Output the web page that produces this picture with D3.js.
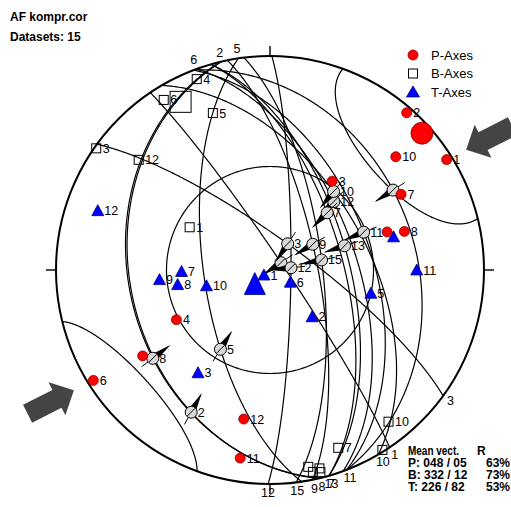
<!DOCTYPE html>
<html>
<head>
<meta charset="utf-8">
<script src="https://cdn.jsdelivr.net/npm/d3@7/dist/d3.min.js"></script>
<style>
  html, body { margin: 0; padding: 0; background: #fff; }
  svg { display: block; }
  text { font-family: "Liberation Sans", Arial, Helvetica, sans-serif; fill: #000; }
</style>
</head>
<body>
<svg id="net" width="511" height="507"></svg>
<script>
// Orientations are lower-hemisphere directions: trend (azimuth) / plunge, degrees.

// P-axes
const pLabels = ["1", "2", "3", "4", "6", "7", "8", "10", "11", "12", "", ""];
const pTrend  = [58, 41, 35, 242, 238, 60, 74, 48, 189, 190, 72, 236];
const pPlunge = [3, 3, 48, 49, 3, 30, 35, 22, 12, 30, 42, 29];

// B-axes
const bLabels = ["1", "3", "4", "5", "6", "12", "7", "10", "", "", "", "", ""];
const bTrend  = [298, 305, 339, 340, 328, 310, 159, 142, 148, 168, 166, 169, 166];
const bPlunge = [55, 1, 5, 23, 7, 21, 12, 11, 1, 4, 3, 7, 5];

// T-axes
const tLabels = ["12", "9", "7", "8", "10", "1", "6", "2", "5", "11", "", "3"];
const tTrend  = [289, 265, 269, 261, 256, 230, 121, 138, 103, 90, 75, 215];
const tPlunge = [16, 47, 56, 54, 65, 87, 81, 66, 50, 32, 40, 41];

// Mean vectors with their R values
const meanNames  = ["P", "B", "T"];
const meanTrend  = [48, 332, 226];
const meanPlunge = [5, 12, 82];
const meanR      = [63, 73, 53];

// Cone of confidence around the mean P-axis (degrees)
const pConeAngle = 28.5;

// Fault planes: strike azimuth of the labelled end and the slip line measured on the plane
const planeLabels   = ["1", "2", "3", "4", "5", "6", "7", "8", "9", "10", "11", "12", "13", "15"];
const planeStrike   = [146, 347, 126, 339, 351.5, 340, 164, 166.5, 168.5, 149.6, 159, 180.5, 164, 173];
const slipTrend     = [56, 209, 34, 57, 212, 43, 45, 233, 59, 39, 68, 84, 72, 79];
const slipPlunge    = [85, 25, 78, 32, 54, 54, 59, 32, 71, 51, 51, 82, 60, 70];
const slipLabels    = ["", "2", "3", "", "5", "12", "7", "8", "9", "10", "11", "12", "13", "15"];
const endLabelShown = [true, true, true, false, true, true, true, true, true, true, true, true, true, true];

// Compression arrows: where they sit (azimuth) and the direction they point along
const compressionPos = 58.5;
const compressionDir = 63;

const svg = d3.select("#net");
const R = 214, CX = 270, CY = 270;

// Schmidt (equal-area) lower-hemisphere net
const proj = d3.geoAzimuthalEqualArea()
  .rotate([0, -90])
  .clipAngle(90)
  .scale(R / Math.SQRT2)
  .translate([CX, CY])
  .precision(0.2);
const path = d3.geoPath(proj);
const geo = (trend, plunge) => [180 - trend, plunge];
const pt = (trend, plunge) => proj(geo(trend, plunge));

const rad = Math.PI / 180;
const vec = (t, p) => [Math.cos(p * rad) * Math.cos(t * rad), Math.cos(p * rad) * Math.sin(t * rad), Math.sin(p * rad)];
const cross = (a, b) => [a[1] * b[2] - a[2] * b[1], a[2] * b[0] - a[0] * b[2], a[0] * b[1] - a[1] * b[0]];
function toTP(v) {
  const n = Math.hypot(v[0], v[1], v[2]);
  let x = v[0] / n, y = v[1] / n, z = v[2] / n;
  if (z < 0) { x = -x; y = -y; z = -z; }
  return [(Math.atan2(y, x) / rad + 360) % 360, Math.asin(z) / rad];
}
// A circle on the sphere as an open line, so that clipping leaves only the arc
const circleLine = (centerT, centerP, radius) => ({
  type: "LineString",
  coordinates: d3.geoCircle().center(geo(centerT, centerP)).radius(radius).precision(0.5)().coordinates[0]
});

const lineG = svg.append("g").attr("fill", "none").attr("stroke", "#000");

// Inner reference circle
lineG.append("path").attr("d", path(circleLine(0, 90, 40))).attr("stroke-width", 1.2);

// Fault planes as great circles around their poles
const planes = planeLabels.map((lab, i) => {
  const n = cross(vec(planeStrike[i], 0), vec(slipTrend[i], slipPlunge[i]));
  return { lab, pole: toTP(n), i };
});
lineG.selectAll("path.plane").data(planes).join("path").attr("class", "plane")
  .attr("d", d => path(circleLine(d.pole[0], d.pole[1], 90)))
  .attr("stroke-width", 1.2);

// Confidence cone of the mean P-axis (both ends of the axis)
lineG.append("path").attr("d", path(circleLine(meanTrend[0], meanPlunge[0], pConeAngle))).attr("stroke-width", 1.2);
lineG.append("path").attr("d", path(circleLine(meanTrend[0] + 180, -meanPlunge[0], pConeAngle))).attr("stroke-width", 1.2);

// Primitive circle
svg.append("circle").attr("cx", CX).attr("cy", CY).attr("r", R)
  .attr("fill", "none").attr("stroke", "#000").attr("stroke-width", 2);

// Tick marks at N, E, S, W
[0, 90, 180, 270].forEach(a => {
  const s = Math.sin(a * rad), c = -Math.cos(a * rad);
  svg.append("line")
    .attr("x1", CX + s * R).attr("y1", CY + c * R)
    .attr("x2", CX + s * (R + 10)).attr("y2", CY + c * (R + 10))
    .attr("stroke", "#000").attr("stroke-width", 1.4);
});

// Plane end labels
svg.append("g").selectAll("text").data(planes.filter(d => endLabelShown[d.i])).join("text")
  .attr("x", d => CX + Math.sin(planeStrike[d.i] * rad) * (R + 9))
  .attr("y", d => CY - Math.cos(planeStrike[d.i] * rad) * (R + 9))
  .attr("text-anchor", "middle").attr("dominant-baseline", "central")
  .attr("font-size", 12.5).text(d => d.lab);

// Compression arrows
const arrowShape = "M0,0 L-19,-18.5 L-19,-10 L-52,-10 L-52,10 L-19,10 L-19,18.5 Z";
[0, 180].forEach(flip => {
  const a = compressionPos + flip;
  const x = CX + Math.sin(a * rad) * 230, y = CY - Math.cos(a * rad) * 230;
  const d = compressionDir + flip + 180;           // pointing inward
  const ang = Math.atan2(-Math.cos(d * rad), Math.sin(d * rad)) / rad;
  svg.append("path").attr("d", arrowShape)
    .attr("transform", `translate(${x},${y}) rotate(${ang})`)
    .attr("fill", "#444");
});

// Slip lines with sense-of-movement arrows
const slipG = svg.append("g");
planes.forEach(d => {
  const i = d.i;
  const [x, y] = pt(slipTrend[i], slipPlunge[i]);
  let ux = CX - x, uy = CY - y;
  const len = Math.hypot(ux, uy) || 1;
  ux /= len; uy /= len;
  const px = -uy, py = ux;
  slipG.append("line")
    .attr("x1", x - ux * 14).attr("y1", y - uy * 14)
    .attr("x2", x + ux * 20).attr("y2", y + uy * 20)
    .attr("stroke", "#000").attr("stroke-width", 1);
  slipG.append("path")
    .attr("d", `M${x + ux * 5 + px * 3.2},${y + uy * 5 + py * 3.2} L${x + ux * 22},${y + uy * 22} L${x + ux * 5 - px * 3.2},${y + uy * 5 - py * 3.2} Z`)
    .attr("fill", "#000");
  slipG.append("circle").attr("cx", x).attr("cy", y).attr("r", 6)
    .attr("fill", "#d8d8d8").attr("stroke", "#000").attr("stroke-width", 1);
  slipG.append("line")
    .attr("x1", x - 3.8).attr("y1", y + 3.8).attr("x2", x + 3.8).attr("y2", y - 3.8)
    .attr("stroke", "#000").attr("stroke-width", 1);
  if (slipLabels[i]) slipG.append("text").attr("x", x + 6.5).attr("y", y + 4.5)
    .attr("font-size", 12.5).text(slipLabels[i]);
});

// Symbols
const triPath = (w, h) => `M0,${-h * 0.55} L${w / 2},${h * 0.45} L${-w / 2},${h * 0.45} Z`;
function drawP(g, x, y, r) {
  g.append("circle").attr("cx", x).attr("cy", y).attr("r", r)
    .attr("fill", "#ff0000").attr("stroke", "#8a0000").attr("stroke-width", 0.8);
}
function drawB(g, x, y, s) {
  g.append("rect").attr("x", x - s / 2).attr("y", y - s / 2).attr("width", s).attr("height", s)
    .attr("fill", "none").attr("stroke", "#000").attr("stroke-width", 1);
}
function drawT(g, x, y, w, h) {
  g.append("path").attr("d", triPath(w, h)).attr("transform", `translate(${x},${y})`)
    .attr("fill", "#0000ff").attr("stroke", "#00007a").attr("stroke-width", 0.8);
}
const symG = svg.append("g");
function labelAt(x, y, t) {
  if (t) symG.append("text").attr("x", x + 6.5).attr("y", y + 4.5).attr("font-size", 12.5).text(t);
}
bLabels.forEach((l, i) => { const [x, y] = pt(bTrend[i], bPlunge[i]); drawB(symG, x, y, 9); labelAt(x, y, l); });
tLabels.forEach((l, i) => { const [x, y] = pt(tTrend[i], tPlunge[i]); drawT(symG, x, y, 12, 11); labelAt(x, y, l); });
pLabels.forEach((l, i) => { const [x, y] = pt(pTrend[i], pPlunge[i]); drawP(symG, x, y, 5); labelAt(x, y, l); });

// Mean vectors
{
  const [px, py] = pt(meanTrend[0], meanPlunge[0]); drawP(symG, px, py, 11);
  const [bx, by] = pt(meanTrend[1], meanPlunge[1]); drawB(symG, bx, by, 21);
  const [tx, ty] = pt(meanTrend[2], meanPlunge[2]); drawT(symG, tx, ty, 21, 22);
}

// Header
svg.append("text").attr("x", 10).attr("y", 21).attr("font-size", 12).attr("font-weight", "bold").text("AF kompr.cor");
svg.append("text").attr("x", 10).attr("y", 41).attr("font-size", 12).attr("font-weight", "bold").text("Datasets: 15");

// Legend
const leg = svg.append("g");
drawP(leg, 413, 55, 5);
drawB(leg, 413, 73.5, 9);
drawT(leg, 413, 92, 13, 11);
["P-Axes", "B-Axes", "T-Axes"].forEach((t, i) => {
  leg.append("text").attr("x", 431).attr("y", 59.5 + i * 18.5).attr("font-size", 13).text(t);
});

// Mean vector table
const tab = svg.append("g").attr("font-size", 12).attr("font-weight", "bold");
tab.append("text").attr("x", 408).attr("y", 454.5).attr("textLength", 51).attr("lengthAdjust", "spacingAndGlyphs").text("Mean vect.");
tab.append("text").attr("x", 477).attr("y", 454.5).text("R");
meanNames.forEach((n, i) => {
  const pad = (v, k) => String(v).padStart(k, "0");
  const y = 466.5 + i * 12.3;
  tab.append("text").attr("x", 408).attr("y", y)
    .text(`${n}: ${pad(meanTrend[i], 3)} / ${pad(meanPlunge[i], 2)}`);
  tab.append("text").attr("x", 486).attr("y", y).text(`${meanR[i]}%`);
});
</script>
</body>
</html>
